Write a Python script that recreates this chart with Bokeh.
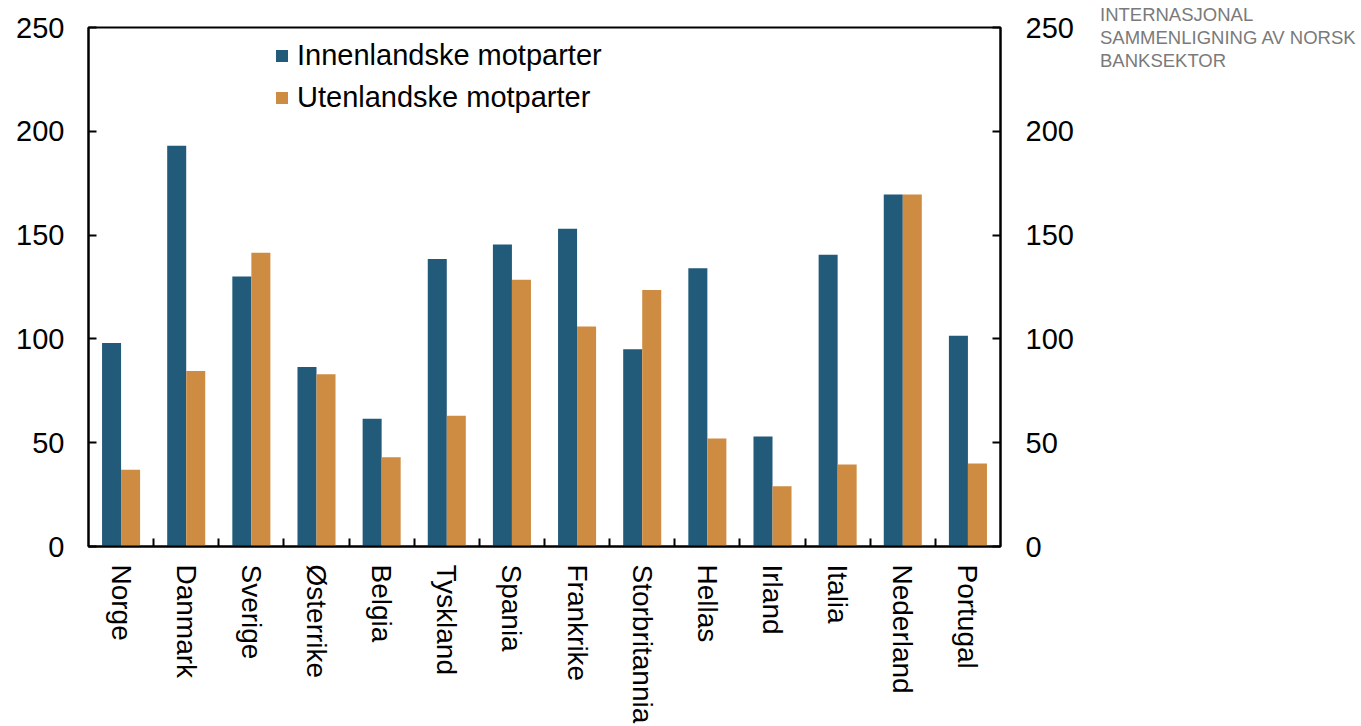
import numpy as np
from bokeh.plotting import figure
from bokeh.layouts import row
from bokeh.models import (Range1d, LinearAxis, FixedTicker, Legend, LegendItem,
                          ColumnDataSource, Div)
from bokeh.transform import dodge
from bokeh.embed import file_html
from bokeh.resources import INLINE

countries = ["Norge", "Danmark", "Sverige", "Østerrike", "Belgia", "Tyskland",
             "Spania", "Frankrike", "Storbritannia", "Hellas", "Irland",
             "Italia", "Nederland", "Portugal"]
domestic = [98, 193, 130, 86.5, 61.5, 138.5, 145.5, 153, 95, 134, 53, 140.5, 169.5, 101.5]
foreign = [37, 84.5, 141.5, 83, 43, 63, 128.5, 106, 123.5, 52, 29, 39.5, 169.5, 40]
y_ticks = [0, 50, 100, 150, 200, 250]
series_names = ["Innenlandske motparter", "Utenlandske motparter"]
title_lines = ["INTERNASJONAL", "SAMMENLIGNING AV NORSK", "BANKSEKTOR"]

FONT = "Liberation Sans"
BLUE = "#225A7A"
ORANGE = "#CE8C42"

pos = list(range(1, len(countries) + 1))
boundaries = [x + 0.5 for x in pos[:-1]]

src = ColumnDataSource(dict(x=pos, dom=domestic, fr=foreign))

p = figure(width=1100, height=726, x_range=Range1d(0.5, len(countries) + 0.5),
           y_range=Range1d(0, 250), output_backend="svg", toolbar_location=None,
           min_border_left=88, min_border_right=100, min_border_top=27,
           min_border_bottom=179)

r1 = p.vbar(x=dodge("x", -0.146, range=p.x_range), top="dom", width=0.292,
            source=src, fill_color=BLUE, line_color=None)
r2 = p.vbar(x=dodge("x", 0.146, range=p.x_range), top="fr", width=0.292,
            source=src, fill_color=ORANGE, line_color=None)

p.xgrid.visible = False
p.ygrid.visible = False
p.outline_line_color = "black"
p.outline_line_width = 2

xa = p.xaxis[0]
xa.ticker = FixedTicker(ticks=pos, minor_ticks=boundaries)
xa.major_label_overrides = {x: c for x, c in zip(pos, countries)}
xa.major_tick_in = 0
xa.major_tick_out = 0
xa.minor_tick_in = 8
xa.minor_tick_out = 0
xa.minor_tick_line_color = "black"
xa.minor_tick_line_width = 2
xa.axis_line_width = 2
xa.major_label_orientation = -np.pi / 2
xa.major_label_standoff = 18
xa.major_label_text_font = FONT
xa.major_label_text_font_size = "28px"
xa.major_label_text_color = "black"

ya = p.yaxis[0]
ra = LinearAxis()
p.add_layout(ra, "right")
for ax, so in ((ya, 24), (ra, 25)):
    ax.ticker = FixedTicker(ticks=y_ticks)
    ax.major_tick_in = 8
    ax.major_tick_out = 0
    ax.minor_tick_line_color = None
    ax.major_tick_line_width = 2
    ax.axis_line_width = 2
    ax.major_label_standoff = so
    ax.major_label_text_font = FONT
    ax.major_label_text_font_size = "29px"
    ax.major_label_text_color = "black"

legend = Legend(items=[LegendItem(label=series_names[0], renderers=[r1]),
                       LegendItem(label=series_names[1], renderers=[r2])],
                location=(186, 432), glyph_width=15, glyph_height=15,
                label_text_font=FONT, label_text_font_size="29px",
                label_text_color="black",
                label_standoff=8, padding=0, margin=0, spacing=9,
                border_line_color=None, background_fill_alpha=0)
p.add_layout(legend)

title = Div(text="<br>".join(title_lines), width=261, height=100, margin=(0, 0, 0, 0),
            styles={"font-family": FONT, "font-size": "18.5px", "color": "#7a7a7a",
                    "line-height": "23px", "padding-top": "3px", "white-space": "nowrap"})

layout = row(p, title, spacing=0)
open("out.html", "w").write(file_html(layout, INLINE))
